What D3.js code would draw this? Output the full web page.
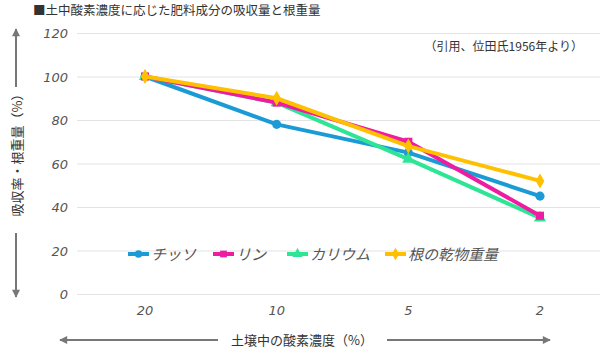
<!DOCTYPE html>
<html><head><meta charset="utf-8">
<script src="https://cdn.jsdelivr.net/npm/d3@7"></script>
<style>body{margin:0;background:#fff}svg{display:block;font-family:"Noto Sans CJK JP","Noto Sans",sans-serif}</style>
</head><body><svg id="c" width="600" height="350"></svg>
<script>
const categories = ["20","10","5","2"];
const seriesNames = ["チッソ","リン","カリウム","根の乾物重量"];
const nitrogen = [100,78,65,45];
const phosphorus = [100,88,70,36];
const potassium = [100,88,62,35];
const rootWeight = [100,90,68,52];
const yTicks = [0,20,40,60,80,100,120];
const colors = ["#1b9bd6","#ee1ca0","#2ee596","#ffc000"];
const symbols = [d3.symbolCircle,d3.symbolSquare,d3.symbolTriangle,d3.symbolDiamond];
const seriesData = [nitrogen,phosphorus,potassium,rootWeight];

const svg = d3.select("#c");
const x = d3.scalePoint().domain(categories).range([145,540]);
const y = d3.scaleLinear().domain([0,120]).range([294,33]);

svg.append("defs").append("marker").attr("id","ah").attr("viewBox","0 0 10 10")
 .attr("refX",9).attr("refY",5).attr("markerWidth",5).attr("markerHeight",4).attr("orient","auto-start-reverse")
 .append("path").attr("d","M0,0L10,5L0,10Z").attr("fill","#777");

svg.append("text").attr("x",33).attr("y",15).attr("font-size",12.5).attr("fill","#333").text("■土中酸素濃度に応じた肥料成分の吸収量と根重量");

const gy = svg.append("g");
gy.selectAll("line").data(yTicks).join("line")
 .attr("x1",77).attr("x2",600).attr("y1",d=>y(d)+0.5).attr("y2",d=>y(d)+0.5)
 .attr("stroke","#e3e3e3").attr("stroke-width",1);
gy.selectAll("text").data(yTicks).join("text")
 .attr("x",68).attr("y",d=>y(d)+5).attr("text-anchor","end").attr("font-size",13)
 .attr("font-style","italic").attr("fill","#555").attr("font-family","DejaVu Sans, sans-serif").attr("textLength",null).text(d=>d);

svg.append("g").selectAll("text").data(categories).join("text")
 .attr("x",d=>x(d)).attr("y",315).attr("text-anchor","middle").attr("font-size",13)
 .attr("font-style","italic").attr("fill","#555").attr("font-family","DejaVu Sans, sans-serif").text(d=>d);

svg.append("text").attr("x",583).attr("y",51).attr("text-anchor","end").attr("font-size",12).attr("fill","#333").text("（引用、位田氏1956年より）");

const line = d3.line().x((d,i)=>x(categories[i])).y(d=>y(d));
const order = [0,2,1,3];
order.forEach(s=>{
  svg.append("path").datum(seriesData[s]).attr("d",line).attr("fill","none")
   .attr("stroke",colors[s]).attr("stroke-width",4).attr("stroke-linejoin","round");
  svg.append("g").selectAll("path").data(seriesData[s]).join("path")
   .attr("transform",(d,i)=>`translate(${x(categories[i])},${y(d)})`)
   .attr("d",d3.symbol().type(symbols[s]).size(65)).attr("fill",colors[s]);
});

const legX = [128,213,287,385];
const lg = svg.append("g");
seriesNames.forEach((n,i)=>{
  const g = lg.append("g").attr("transform",`translate(${legX[i]},254)`);
  g.append("line").attr("x1",0).attr("x2",21).attr("stroke",colors[i]).attr("stroke-width",4);
  g.append("path").attr("transform","translate(10.5,0)").attr("d",d3.symbol().type(symbols[i]).size(45)).attr("fill",colors[i]);
  g.append("text").attr("x",23).attr("y",6).attr("font-size",15).attr("font-style","italic").attr("fill","#555").text(n);
});

svg.append("line").attr("x1",16).attr("x2",16).attr("y1",87).attr("y2",29).attr("stroke","#777").attr("stroke-width",2).attr("marker-end","url(#ah)");
svg.append("line").attr("x1",16).attr("x2",16).attr("y1",233).attr("y2",297).attr("stroke","#777").attr("stroke-width",2).attr("marker-end","url(#ah)");
svg.append("text").attr("transform","translate(22,152) rotate(-90)").attr("text-anchor","middle").attr("font-size",13).attr("fill","#333").text("吸収率・根重量（%）");

svg.append("line").attr("x1",218).attr("x2",60).attr("y1",340).attr("y2",340).attr("stroke","#777").attr("stroke-width",2).attr("marker-end","url(#ah)");
svg.append("line").attr("x1",387).attr("x2",550).attr("y1",340).attr("y2",340).attr("stroke","#777").attr("stroke-width",2).attr("marker-end","url(#ah)");
svg.append("text").attr("x",302).attr("y",345).attr("text-anchor","middle").attr("font-size",13).attr("fill","#333").text("土壌中の酸素濃度（%）");
</script></body></html>
